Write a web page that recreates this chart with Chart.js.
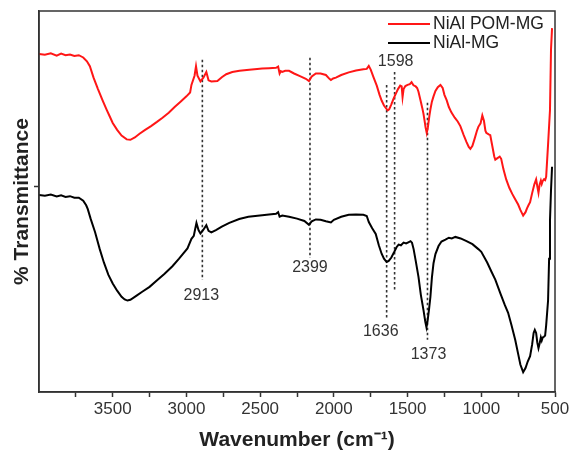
<!DOCTYPE html>
<html>
<head>
<meta charset="utf-8">
<script src="https://cdn.jsdelivr.net/npm/chart.js@4.4.1/dist/chart.umd.min.js"></script>
<style>
  html, body { margin: 0; padding: 0; background: #fff; }
  #wrap { width: 570px; height: 457px; position: relative; }
</style>
</head>
<body>
<div id="wrap"><canvas id="ftirChart"></canvas></div>
<script>
// FTIR spectra
const seriesNames = ['NiAl POM-MG', 'NiAl-MG'];

const pomWavenumber = [4000, 3960, 3920, 3880, 3850, 3820, 3790, 3760, 3730, 3700, 3675, 3655, 3630, 3600, 3568, 3540, 3520, 3500, 3470, 3440, 3405, 3380, 3350, 3318, 3280, 3240, 3200, 3162, 3120, 3080, 3040, 3000, 2975, 2966, 2945, 2935, 2925, 2905, 2885, 2865, 2850, 2831, 2790, 2760, 2730, 2689, 2640, 2574, 2520, 2486, 2440, 2392, 2378, 2368, 2360, 2350, 2330, 2304, 2270, 2230, 2190, 2169, 2150, 2122, 2090, 2054, 2030, 2020, 2005, 1986, 1950, 1899, 1850, 1800, 1777, 1763, 1750, 1730, 1709, 1690, 1676, 1660, 1649, 1635, 1625, 1610, 1595, 1581, 1565, 1550, 1540, 1534, 1527, 1515, 1500, 1485, 1473, 1460, 1445, 1435, 1426, 1412, 1400, 1392, 1385, 1378, 1370, 1362, 1352, 1345, 1335, 1324, 1311, 1295, 1277, 1262, 1250, 1235, 1220, 1203, 1180, 1160, 1142, 1120, 1100, 1085, 1074, 1060, 1045, 1030, 1020, 1005, 993, 982, 972, 966, 950, 939, 925, 912, 905, 890, 875, 865, 850, 831, 810, 790, 770, 750, 735, 716, 700, 690, 680, 669, 655, 640, 628, 620, 612, 604, 596, 590, 583, 575, 567, 560, 547, 534, 527, 520];
const pomTransmittance = [88.7, 88.5, 88.9, 88.3, 88.8, 88.4, 88.6, 88.2, 88.4, 87.8, 86.8, 85.5, 82.5, 79.5, 76.5, 74.0, 72.3, 70.6, 68.8, 67.3, 66.3, 66.2, 66.8, 67.8, 68.8, 69.8, 70.9, 72.0, 73.3, 74.8, 76.2, 77.6, 78.6, 80.6, 83.0, 85.5, 83.0, 81.5, 82.5, 84.0, 81.8, 81.5, 81.6, 82.6, 83.4, 84.0, 84.3, 84.6, 84.8, 84.9, 85.0, 85.1, 85.4, 83.6, 84.2, 84.0, 84.3, 84.3, 83.6, 82.9, 82.2, 81.6, 82.8, 83.6, 83.6, 83.2, 82.2, 81.9, 82.3, 82.5, 83.2, 83.9, 84.4, 84.7, 84.8, 85.6, 84.6, 82.5, 80.4, 78.0, 76.5, 75.2, 74.6, 73.9, 74.2, 75.5, 77.0, 78.2, 79.5, 80.4, 80.2, 77.4, 79.5, 80.3, 80.6, 80.8, 81.3, 80.5, 80.2, 79.8, 78.8, 76.5, 74.5, 73.0, 71.3, 69.5, 68.0, 69.5, 72.5, 74.2, 76.2, 77.6, 79.0, 80.0, 80.6, 79.8, 78.0, 76.6, 74.8, 73.4, 72.0, 71.0, 69.8, 67.5, 65.6, 64.3, 63.8, 64.6, 66.5, 68.5, 69.6, 70.5, 72.6, 71.2, 68.6, 68.0, 67.6, 67.4, 64.5, 61.8, 61.0, 61.4, 61.8, 61.2, 58.5, 55.8, 53.6, 52.0, 50.6, 49.2, 47.8, 46.3, 47.2, 48.2, 49.0, 49.8, 52.2, 54.5, 55.8, 54.0, 52.3, 54.5, 55.5, 54.6, 55.4, 55.8, 55.6, 56.5, 65.0, 74.0, 90.0, 95.5];

const mgWavenumber = [4000, 3960, 3920, 3880, 3850, 3820, 3790, 3760, 3730, 3700, 3680, 3669, 3650, 3620, 3588, 3560, 3530, 3500, 3470, 3440, 3419, 3400, 3380, 3338, 3300, 3250, 3203, 3150, 3095, 3050, 2993, 2966, 2950, 2932, 2918, 2905, 2885, 2865, 2850, 2831, 2800, 2760, 2709, 2642, 2580, 2486, 2440, 2392, 2378, 2368, 2350, 2304, 2250, 2200, 2169, 2150, 2122, 2090, 2054, 2020, 2000, 1950, 1899, 1850, 1800, 1777, 1763, 1740, 1716, 1695, 1676, 1660, 1642, 1628, 1610, 1590, 1575, 1561, 1545, 1527, 1510, 1495, 1480, 1470, 1459, 1445, 1426, 1410, 1392, 1380, 1372, 1365, 1355, 1345, 1335, 1324, 1311, 1290, 1270, 1243, 1220, 1200, 1176, 1140, 1100, 1060, 1020, 1000, 960, 930, 905, 870, 840, 818, 795, 770, 750, 735, 716, 700, 685, 669, 655, 645, 637, 628, 620, 612, 604, 596, 590, 583, 575, 567, 560, 547, 540, 534, 527, 520];
const mgTransmittance = [51.7, 51.5, 51.8, 51.3, 51.6, 51.2, 51.4, 51.0, 51.0, 50.2, 49.0, 48.0, 45.5, 42.0, 37.5, 34.0, 30.8, 28.5, 26.6, 25.0, 24.3, 24.0, 24.2, 25.3, 26.3, 27.6, 29.2, 31.0, 33.0, 35.0, 37.7, 40.2, 41.0, 44.4, 42.5, 41.6, 42.6, 43.8, 42.3, 41.9, 42.5, 43.4, 44.4, 45.4, 46.0, 46.4, 46.6, 46.8, 47.2, 46.0, 46.3, 46.0, 45.5, 44.9, 43.9, 44.8, 45.3, 45.2, 44.8, 44.5, 45.2, 46.0, 46.5, 46.6, 46.5, 46.2, 44.6, 43.0, 41.5, 38.5, 36.3, 35.0, 34.1, 34.4, 35.3, 36.8, 38.0, 38.7, 38.5, 39.2, 39.0, 39.3, 39.6, 39.2, 37.5, 34.5, 30.2, 25.5, 21.5, 18.5, 17.0, 18.5, 21.5, 25.0, 30.0, 33.8, 36.2, 38.3, 39.5, 40.0, 40.5, 40.3, 40.7, 40.3, 39.6, 38.8, 37.5, 36.8, 34.0, 31.5, 29.5, 25.8, 22.8, 20.8, 17.5, 13.7, 10.0, 7.2, 5.2, 6.3, 8.0, 9.4, 12.5, 15.5, 16.3, 15.5, 13.0, 11.5, 12.8, 14.3, 13.5, 14.3, 14.5, 14.8, 17.5, 24.0, 35.0, 45.0, 53.0, 59.1];

// marked bands: label, where the dotted line sits, its extent, and where the label is written
const peakLabels = ['2913', '2399', '1636', '1598', '1373'];
const peakLineWavenumber = [2892, 2162, 1642, 1588, 1365];
const peakLineTop = [87.2, 87.7, 80.6, 84.0, 75.9];
const peakLineBottom = [29.4, 35.2, 18.9, 26.3, 13.7];
const peakLabelWavenumber = [2899, 2162, 1682, 1581, 1358];
const peakLabelTransmittance = [25.2, 32.6, 15.8, 86.6, 9.7];

const xTickValues = [3750, 3500, 3250, 3000, 2750, 2500, 2250, 2000, 1750, 1500, 1250, 1000, 750, 500];

const FONT = '"Liberation Sans", Arial, sans-serif';
const AXIS = '#333';

function toPoints(xs, ys) {
  return xs.map((x, i) => ({ x, y: ys[i] }));
}

const peakDatasets = peakLabels.map((label, i) => ({
  label: 'band ' + label,
  data: [
    { x: peakLineWavenumber[i], y: peakLineTop[i] },
    { x: peakLineWavenumber[i], y: peakLineBottom[i] },
  ],
  borderColor: '#333',
  borderWidth: 1.6,
  borderDash: [2.5, 2.5],
  pointRadius: 0,
}));

const peakLabelPlugin = {
  id: 'peakLabels',
  afterDatasetsDraw(chart) {
    const { ctx, scales: { x, y } } = chart;
    ctx.save();
    ctx.font = '16px ' + FONT;
    ctx.fillStyle = '#333';
    ctx.textAlign = 'center';
    ctx.textBaseline = 'middle';
    peakLabels.forEach((label, i) => {
      ctx.fillText(label, x.getPixelForValue(peakLabelWavenumber[i]), y.getPixelForValue(peakLabelTransmittance[i]));
    });
    ctx.restore();
  },
};

const frameAndLegendPlugin = {
  id: 'frameAndLegend',
  afterDraw(chart) {
    const { ctx, chartArea: area } = chart;
    ctx.save();
    ctx.strokeStyle = AXIS;
    ctx.lineWidth = 1.5;
    ctx.strokeRect(area.left, area.top, area.right - area.left, area.bottom - area.top);

    ctx.font = '17.5px ' + FONT;
    ctx.textBaseline = 'middle';
    ctx.textAlign = 'left';
    seriesNames.forEach((name, i) => {
      const ds = chart.data.datasets[i];
      const rowY = area.top + 13 + i * 19;
      ctx.strokeStyle = ds.borderColor;
      ctx.lineWidth = 2;
      ctx.beginPath();
      ctx.moveTo(area.right - 167, rowY);
      ctx.lineTo(area.right - 125, rowY);
      ctx.stroke();
      ctx.fillStyle = '#222';
      ctx.fillText(name, area.right - 122, rowY);
    });
    ctx.restore();
  },
};

new Chart(document.getElementById('ftirChart'), {
  type: 'line',
  data: {
    datasets: [
      {
        label: seriesNames[0],
        data: toPoints(pomWavenumber, pomTransmittance),
        borderColor: '#ff1616',
        borderWidth: 2,
        pointRadius: 0,
      },
      {
        label: seriesNames[1],
        data: toPoints(mgWavenumber, mgTransmittance),
        borderColor: '#000',
        borderWidth: 2,
        pointRadius: 0,
      },
      ...peakDatasets,
    ],
  },
  options: {
    responsive: true,
    maintainAspectRatio: false,
    animation: false,
    devicePixelRatio: 1,
    layout: { padding: { top: 11, right: 0, bottom: 0, left: 0 } },
    plugins: { legend: { display: false }, tooltip: { enabled: false } },
    scales: {
      x: {
        type: 'linear',
        reverse: true,
        min: 500,
        max: 4000,
        afterBuildTicks: scale => { scale.ticks = xTickValues.map(value => ({ value })); },
        afterFit: scale => { scale.height = 65; scale.paddingRight = 15; scale.paddingLeft = 0; },
        ticks: {
          autoSkip: false,
          maxRotation: 0,
          padding: 2,
          color: '#333',
          font: { family: FONT, size: 17 },
          callback: value => (value % 500 === 0 ? String(value) : ''),
        },
        grid: { drawOnChartArea: false, drawTicks: true, tickLength: 5, tickColor: AXIS, tickWidth: 1.5 },
        border: { display: true, color: AXIS, width: 1.5 },
        title: {
          display: true,
          text: 'Wavenumber (cm⁻¹)',
          color: '#222',
          font: { family: FONT, size: 21, weight: 'bold' },
          padding: { top: 0, bottom: 4 },
        },
      },
      y: {
        min: 0,
        max: 100,
        afterBuildTicks: scale => { scale.ticks = [{ value: 54 }]; },
        afterFit: scale => { scale.width = 39; },
        ticks: { display: false },
        grid: { drawOnChartArea: false, drawTicks: true, tickLength: 5, tickColor: AXIS, tickWidth: 1.5 },
        border: { display: true, color: AXIS, width: 1.5 },
        title: {
          display: true,
          text: '% Transmittance',
          color: '#222',
          font: { family: FONT, size: 21, weight: 'bold' },
          padding: { top: 10, bottom: 0 },
        },
      },
    },
  },
  plugins: [peakLabelPlugin, frameAndLegendPlugin],
});
</script>
</body>
</html>
